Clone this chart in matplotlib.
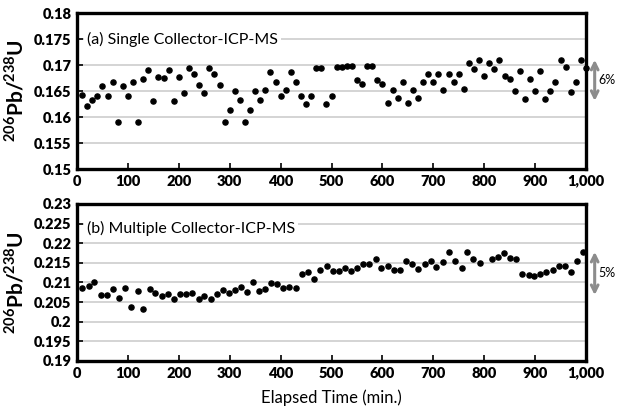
import matplotlib
matplotlib.use("Agg")
import matplotlib.pyplot as plt
from matplotlib import font_manager
from matplotlib.ticker import FuncFormatter, MultipleLocator

# ---------------- data ----------------
time_a = list(range(10, 1001, 10))
ratio_a = [
    0.1642, 0.1622, 0.1633, 0.1641, 0.1660, 0.1641, 0.1667, 0.1590, 0.1660, 0.1641,
    0.1667, 0.1590, 0.1674, 0.1691, 0.1631, 0.1677, 0.1675, 0.1691, 0.1631, 0.1677,
    0.1647, 0.1695, 0.1683, 0.1661, 0.1647, 0.1695, 0.1683, 0.1661, 0.1590, 0.1614,
    0.1650, 0.1633, 0.1590, 0.1614, 0.1650, 0.1633, 0.1652, 0.1687, 0.1667, 0.1640,
    0.1652, 0.1687, 0.1667, 0.1640, 0.1625, 0.1640, 0.1695, 0.1695, 0.1625, 0.1640,
    0.1696, 0.1696, 0.1699, 0.1699, 0.1671, 0.1664, 0.1699, 0.1699, 0.1671, 0.1664,
    0.1626, 0.1652, 0.1636, 0.1668, 0.1626, 0.1652, 0.1636, 0.1668, 0.1683, 0.1667,
    0.1683, 0.1652, 0.1683, 0.1667, 0.1683, 0.1653, 0.1704, 0.1692, 0.1709, 0.1679,
    0.1704, 0.1692, 0.1709, 0.1679, 0.1673, 0.1650, 0.1689, 0.1634, 0.1673, 0.1650,
    0.1689, 0.1634, 0.1650, 0.1667, 0.1710, 0.1696, 0.1649, 0.1667, 0.1710, 0.1695,
]

time_b = [
    10.8, 22.6, 33.8, 47.6, 58, 70.5, 81.7, 94.8, 106, 119,
    130, 142.7, 154, 167, 178, 190.6, 202, 214, 226, 239,
    250, 262.8, 274.6, 286.4, 298, 310, 321.9, 333.7, 346, 358,
    369.7, 381.5, 393.4, 405, 417, 430, 442.5, 454, 466, 478,
    490.5, 502, 514, 526, 538, 550, 562.6, 574, 587, 598,
    610.6, 622.4, 634.8, 646.7, 658.5, 670, 682.7, 694.5, 706, 719,
    731, 742.5, 755.5, 766.7, 778.5, 791, 814.6, 826.4, 838, 850,
    862.6, 874.4, 887, 898.6, 910.4, 922, 934.6, 946.5, 958, 970.8,
    982.7, 994.5,
]
ratio_b = [
    0.2085, 0.2092, 0.2102, 0.2067, 0.2067, 0.2083, 0.2061, 0.2087, 0.2037, 0.2079,
    0.2033, 0.2083, 0.2073, 0.2066, 0.2071, 0.2058, 0.2071, 0.2071, 0.2073, 0.2059,
    0.2066, 0.2058, 0.2071, 0.2081, 0.2074, 0.2081, 0.2088, 0.2075, 0.2100, 0.2079,
    0.2084, 0.2099, 0.2095, 0.2087, 0.2088, 0.2087, 0.2121, 0.2127, 0.2110, 0.2131,
    0.2143, 0.2128, 0.2130, 0.2136, 0.2130, 0.2136, 0.2148, 0.2146, 0.2161, 0.2136,
    0.2143, 0.2132, 0.2132, 0.2156, 0.2146, 0.2134, 0.2146, 0.2156, 0.2140, 0.2153,
    0.2177, 0.2156, 0.2136, 0.2177, 0.2159, 0.2149, 0.2159, 0.2165, 0.2175, 0.2163,
    0.2160, 0.2121, 0.2119, 0.2116, 0.2121, 0.2126, 0.2132, 0.2143, 0.2141, 0.2127,
    0.2156, 0.2177,
]

title_a = "(a) Single Collector-ICP-MS"
title_b = "(b) Multiple Collector-ICP-MS"
ylim_a = (0.15, 0.18)
ylim_b = (0.19, 0.23)
arrow_a = (0.171, 0.1631)
arrow_b = (0.2178, 0.2068)
label_a = "6%"
label_b = "5%"

# ---------------- font ----------------
avail = {f.name for f in font_manager.fontManager.ttflist}
family = "DejaVu Sans"
for cand in ["Lato", "Open Sans", "Liberation Sans"]:
    if cand in avail:
        family = cand
        break
plt.rcParams["font.family"] = [family, "DejaVu Sans"]
plt.rcParams["mathtext.fontset"] = "custom"
plt.rcParams["mathtext.rm"] = family
plt.rcParams["mathtext.bf"] = family + ":bold"

fig = plt.figure(figsize=(6.17, 4.12), dpi=100)
ax_a = fig.add_axes([0.1248, 0.5898, 0.825, 0.3786])
ax_b = fig.add_axes([0.1248, 0.1238, 0.825, 0.3811])

comma = FuncFormatter(lambda v, p: f"{int(v):,}")


def yf(v):
    return f"{v:.3f}".rstrip("0").rstrip(".")


def style(ax, ylim, step):
    ax.set_xlim(0, 1000)
    ax.set_ylim(*ylim)
    ax.xaxis.set_major_locator(MultipleLocator(100))
    ax.yaxis.set_major_locator(MultipleLocator(step))
    ax.xaxis.set_major_formatter(comma)
    ax.yaxis.set_major_formatter(FuncFormatter(lambda v, p: yf(v)))
    ax.grid(axis="y", color="#d4d4d4", linewidth=1.4, zorder=0)
    ax.set_axisbelow(True)
    for s in ax.spines.values():
        s.set_linewidth(2.4)
        s.set_color("black")
    ax.tick_params(direction="in", length=4, width=1.2, labelsize=10.5, pad=4)
    for lab in ax.get_xticklabels() + ax.get_yticklabels():
        lab.set_fontweight("heavy")
    ax.set_ylabel(r"$^{\mathbf{206}}$Pb/$^{\mathbf{238}}$U", fontsize=15,
                  fontweight="bold", labelpad=5)


for ax, t, r, ylim, title, arr, lab in [
    (ax_a, time_a, ratio_a, ylim_a, title_a, arrow_a, label_a),
    (ax_b, time_b, ratio_b, ylim_b, title_b, arrow_b, label_b),
]:
    style(ax, ylim, 0.005)
    ax.plot(t, r, "o", color="black", markersize=3.7, clip_on=False, zorder=3)
    ax.text(0.02, 0.83 if ax is ax_a else 0.845, title, transform=ax.transAxes,
            fontsize=11.5, va="center", ha="left",
            bbox=dict(facecolor="white", edgecolor="none", pad=2), zorder=4)
    tr = ax.get_yaxis_transform()
    ax.annotate("", xy=(1.017, arr[0]), xytext=(1.017, arr[1]),
                xycoords=tr, textcoords=tr,
                arrowprops=dict(arrowstyle="<->", color="#8c8c8c", lw=2.2,
                                mutation_scale=12, shrinkA=0, shrinkB=0),
                annotation_clip=False)
    ax.text(1.024, (arr[0] + arr[1]) / 2, lab, transform=tr, fontsize=9,
            ha="left", va="center", clip_on=False)

ax_b.set_xlabel("Elapsed Time (min.)", fontsize=12, labelpad=7)

fig.savefig("out.png", dpi=100)
